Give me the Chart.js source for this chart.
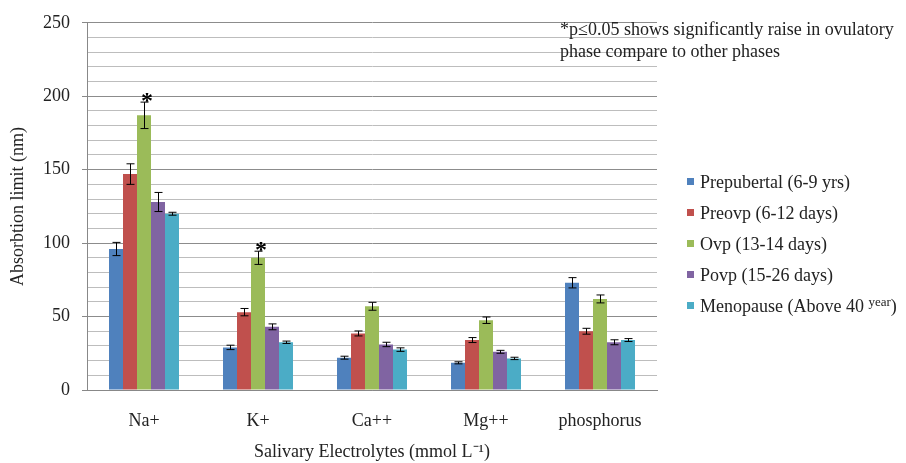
<!DOCTYPE html>
<html lang="en">
<head>
<meta charset="UTF-8">
<title>Salivary Electrolytes</title>
<script src="https://cdn.jsdelivr.net/npm/chart.js"></script>
<style>
body { margin: 0; background: #fff; }
.wrap { position: relative; width: 906px; height: 463px; font-family: 'Liberation Serif', serif; color: #222; }
#chart { position: absolute; left: 0; top: 0; }
.note { position: absolute; left: 560px; top: 18px; font-size: 18px; line-height: 22px; white-space: nowrap; }
.legend { position: absolute; left: 687px; top: 171px; font-size: 18px; }
.legend div { height: 31px; line-height: 22px; white-space: nowrap; }
.legend span.box { display: inline-block; width: 7px; height: 7px; margin-right: 6px; vertical-align: 3px; }
.legend sup { font-size: 13px; vertical-align: 6px; line-height: 0; }
</style>
</head>
<body>
<div class="wrap">
    <canvas id="chart" width="906" height="463"></canvas>
    <div class="note">*p≤0.05 shows significantly raise in ovulatory<br>phase compare to other phases</div>
    <div class="legend" id="legend"></div>
</div>

<script>
// données
const categories = ['Na+', 'K+', 'Ca++', 'Mg++', 'phosphorus'];
const seriesNames = ['Prepubertal (6-9 yrs)', 'Preovp (6-12 days)', 'Ovp (13-14 days)', 'Povp (15-26 days)', 'Menopause (Above 40 <sup>year</sup>)'];
const seriesLabels = ['Prepubertal (6-9 yrs)', 'Preovp (6-12 days)', 'Ovp (13-14 days)', 'Povp (15-26 days)', 'Menopause (Above 40 year)'];
const prepubertal = [96, 29, 22, 18.5, 73];
const preovp = [147, 53, 38.5, 34, 40];
const ovp = [187, 90, 57, 47.5, 62];
const povp = [128, 43, 31, 26, 32.5];
const menopause = [120, 32.5, 27.5, 21.5, 34];
const prepubertalErr = [4.5, 1.5, 1, 0.7, 3.5];
const preovpErr = [7, 2.5, 1.7, 1.7, 2];
const ovpErr = [9, 4.5, 2.7, 2.2, 2.7];
const povpErr = [6.5, 2, 1.5, 1, 1.7];
const menopauseErr = [1, 0.8, 1.2, 0.8, 1];
const ovpSignificant = [true, true, false, false, false];
const yTicks = [0, 50, 100, 150, 200, 250];

const colors = ['#4F81BD', '#C0504D', '#9BBB59', '#8064A2', '#4BACC6'];
const values = [prepubertal, preovp, ovp, povp, menopause];
const errors = [prepubertalErr, preovpErr, ovpErr, povpErr, menopauseErr];
const stars = [null, null, ovpSignificant, null, null];

const serif = "'Liberation Serif', 'Times New Roman', serif";

// légende en HTML
const legend = document.getElementById('legend');
seriesNames.forEach((name, i) => {
    legend.innerHTML += '<div><span class="box" style="background:' + colors[i] + '"></span>' + name + '</div>';
});

// barres d'erreur + astérisques
const errorBars = {
    id: 'errorBars',
    afterDatasetsDraw(chart) {
        const ctx = chart.ctx;
        const y = chart.scales.y;
        ctx.save();
        ctx.strokeStyle = '#000';
        ctx.lineWidth = 1;
        chart.data.datasets.forEach((ds, di) => {
            const meta = chart.getDatasetMeta(di);
            meta.data.forEach((bar, i) => {
                const v = ds.data[i], e = ds.errors[i];
                const top = y.getPixelForValue(v + e);
                const bot = y.getPixelForValue(v - e);
                const x = Math.round(bar.x) + 0.5;
                ctx.beginPath();
                ctx.moveTo(x, top); ctx.lineTo(x, bot);
                ctx.moveTo(x - 4, top); ctx.lineTo(x + 4, top);
                ctx.moveTo(x - 4, bot); ctx.lineTo(x + 4, bot);
                ctx.stroke();
                if (ds.stars && ds.stars[i]) {
                    ctx.fillStyle = '#000';
                    ctx.font = 'bold 24px ' + serif;
                    ctx.textAlign = 'center';
                    ctx.textBaseline = 'alphabetic';
                    ctx.fillText('*', bar.x + 3, top + 6);
                }
            });
        });
        ctx.restore();
    }
};

new Chart(document.getElementById('chart'), {
    type: 'bar',
    data: {
        labels: categories,
        datasets: values.map((data, i) => ({
            label: seriesLabels[i],
            data: data,
            errors: errors[i],
            stars: stars[i],
            backgroundColor: colors[i],
            borderWidth: 0,
            categoryPercentage: 0.614,
            barPercentage: 1
        }))
    },
    options: {
        responsive: false,
        animation: false,
        layout: { padding: { left: 0, right: 249, top: 22, bottom: 0 } },
        plugins: {
            legend: { display: false },
            tooltip: { enabled: false }
        },
        scales: {
            x: {
                afterFit: s => { s.height = 73; },
                grid: { display: false, drawTicks: false },
                border: { color: '#888', width: 1 },
                ticks: { color: '#222', padding: 20, font: { family: serif, size: 18 } },
                title: { display: true, text: 'Salivary Electrolytes (mmol L⁻¹)', color: '#222', padding: { top: 0, bottom: 0 }, font: { family: serif, size: 18 } }
            },
            y: {
                min: 0,
                max: 250,
                afterFit: s => { s.width = 87; },
                border: { color: '#888', width: 1 },
                grid: {
                    color: c => (c.tick.value % 50 === 0 ? '#8c8c8c' : '#bdbdbd'),
                    tickColor: c => (c.tick.value % 50 === 0 ? '#888' : 'rgba(0,0,0,0)'),
                    tickLength: 5,
                    lineWidth: 1
                },
                ticks: {
                    stepSize: 10,
                    autoSkip: false,
                    padding: 12,
                    color: '#222',
                    font: { family: serif, size: 18 },
                    callback: v => (yTicks.includes(v) ? v : '')
                },
                title: { display: true, text: 'Absorbtion limit (nm)', color: '#222', padding: { top: 7, bottom: 4 }, font: { family: serif, size: 18 } }
            }
        }
    },
    plugins: [errorBars]
});
</script>
</body>
</html>
